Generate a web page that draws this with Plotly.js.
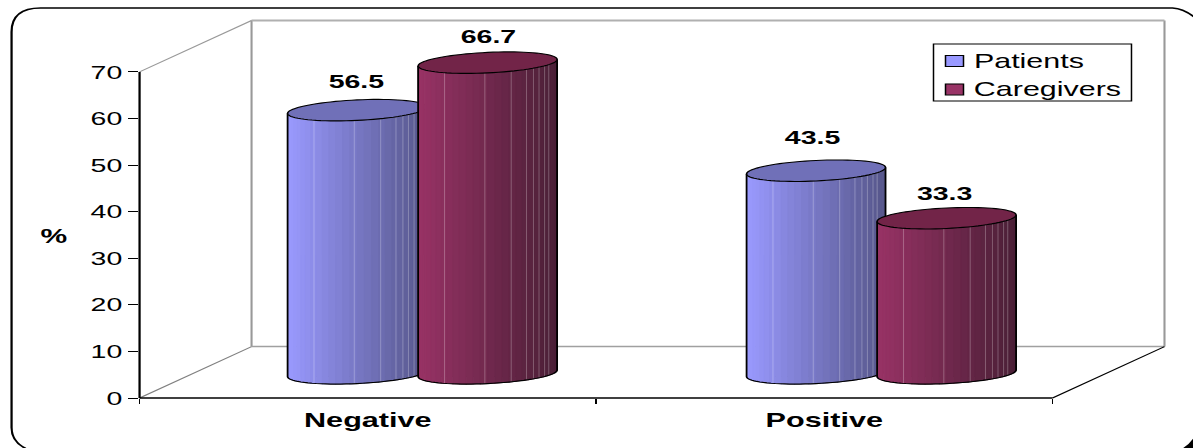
<!DOCTYPE html>
<html>
<head>
<meta charset="utf-8">
<script src="https://cdn.plot.ly/plotly-3.0.1.min.js"></script>
<style>
  html, body { margin: 0; padding: 0; background: #fff; overflow: hidden; width: 1193px; height: 448px; }
  /* The whole slide graphic is drawn wide: glyphs and vertical strokes stretch together. */
  #chart { width: 795px; height: 448px; transform: scaleX(1.50063); transform-origin: 0 0; }
</style>
</head>
<body>
<div id="chart"></div>
<script>
// Survey results, percent of respondents
const categories = ['Negative', 'Positive'];
const patients = [56.5, 43.5];
const caregivers = [66.7, 33.3];
const yTicks = [0, 10, 20, 30, 40, 50, 60, 70];

const stretch = 1193 / 795;
const pxPerUnit = 4.664;        // screen pixels per percentage point
const pxPerCategory = 456.5;    // screen pixels per category on the front plane
const left = 139, right = 1164, top_ = 21, bottom = 398.5;
const xRange = (right - left) / pxPerCategory;
const yRange = (bottom - top_) / pxPerUnit;

// Depth of the pseudo-3D box, in axis units
const depthX = 112 / pxPerCategory;
const depthY = 51.5 / pxPerUnit;

// Cylinder geometry, in axis units
const floorLift = 4.6;          // front-left foot of a cylinder above the zero line
const radiusX = 0.1522;
const radiusY = 2.2;
const tilt = 0.7;               // half the rise of the ellipse from its left to its right end
const facetCount = 30;
const seamFractions = [0.19, 0.48, 0.67, 0.78, 0.83, 0.87, 0.91, 0.94];
const labelNudge = [[0, 6.8], [0.002, 6.4], [-0.007, 7.9], [-0.005, 5.95]];

const seriesStyle = {
  Patients:   { from: [154, 154, 255], to: [86, 86, 138], cap: '#7070b8', swatch: '#9999ff' },
  Caregivers: { from: [153, 51, 102],  to: [74, 31, 54],  cap: '#722448', swatch: '#993366' }
};

const centerOf = (cat, ser) => 0.62 + cat * 1.0055 + (ser === 0 ? -0.1435 : 0.1425);
const mix = (a, b, f) => 'rgb(' + a.map((v, i) => Math.round(v + (b[i] - v) * f)).join(',') + ')';

// One point of the rim: u runs 0..PI from the left end to the right end, side is -1 front, +1 back
function rim(cx, level, u, side) {
  return [cx - radiusX * Math.cos(u), level + tilt * (1 - Math.cos(u)) + side * radiusY * Math.sin(u)];
}
const toPath = (pts, close) => 'M' + pts.map(p => p[0].toFixed(4) + ',' + p[1].toFixed(3)).join('L') + (close ? 'Z' : '');

function cylinderShapes(cx, value, style) {
  const shapes = [];
  const baseLevel = floorLift, topLevel = floorLift + value;
  const body = { type: 'path', xref: 'x', yref: 'y', layer: 'above' };
  // shaded side facets
  for (let i = 0; i < facetCount; i++) {
    const u1 = Math.PI * i / facetCount, u2 = Math.PI * (i + 1) / facetCount;
    const pts = [rim(cx, topLevel, u1, -1), rim(cx, topLevel, u2, -1), rim(cx, baseLevel, u2, -1), rim(cx, baseLevel, u1, -1)];
    const frac = (rim(cx, 0, (u1 + u2) / 2, -1)[0] - (cx - radiusX)) / (2 * radiusX);
    const color = mix(style.from, style.to, frac);
    shapes.push(Object.assign({}, body, { path: toPath(pts, true), fillcolor: color, line: { color: color, width: 0.7 } }));
  }
  // pale seams between some facets
  seamFractions.forEach(f => {
    const u = Math.acos(1 - 2 * f);
    shapes.push(Object.assign({}, body, {
      path: toPath([rim(cx, topLevel, u, -1), rim(cx, baseLevel, u, -1)], false),
      line: { color: 'rgba(255,255,255,0.25)', width: 0.7 }
    }));
  });
  // side and bottom outline
  const outline = [rim(cx, topLevel, 0, -1)];
  for (let i = 0; i <= 40; i++) outline.push(rim(cx, baseLevel, Math.PI * i / 40, -1));
  outline.push(rim(cx, topLevel, Math.PI, -1));
  shapes.push(Object.assign({}, body, { path: toPath(outline, false), line: { color: '#000', width: 1.2 } }));
  // top cap
  const cap = [];
  for (let i = 0; i < 40; i++) cap.push(rim(cx, topLevel, Math.PI * i / 40, -1));
  for (let i = 0; i < 40; i++) cap.push(rim(cx, topLevel, Math.PI - Math.PI * i / 40, 1));
  shapes.push(Object.assign({}, body, { path: toPath(cap, true), fillcolor: style.cap, line: { color: '#000', width: 1.1 } }));
  return shapes;
}

// Box edges: axis units turned into paper fractions, so strokes on the plot border stay whole
const xEnd = categories.length;
const yEnd = yTicks[yTicks.length - 1];
const edge = (x0, y0, x1, y1, color, width, layer) => ({
  type: 'line', xref: 'paper', yref: 'paper', layer: layer || 'below',
  x0: x0 / xRange, y0: y0 / yRange, x1: x1 / xRange, y1: y1 / yRange, line: { color, width }
});
const boxShapes = [
  edge(depthX, depthY, depthX, yEnd + depthY, '#999999', 1.4),
  edge(xEnd + depthX, depthY, xEnd + depthX, yEnd + depthY, '#999999', 1.4),
  edge(depthX, yEnd + depthY, xEnd + depthX, yEnd + depthY, '#b0b0b0', 1.8),
  edge(depthX, depthY, xEnd + depthX, depthY, '#a0a0a0', 1.4),
  edge(0, yEnd, depthX, yEnd + depthY, '#999999', 1),
  edge(0, 0, depthX, depthY, '#808080', 1),
  edge(xEnd, 0, xEnd + depthX, depthY, '#000000', 1),
  edge(0, 0, 0, yEnd, '#000000', 1.5, 'above'),
  edge(0, 0, xEnd, 0, '#000000', 1.4, 'above')
];

// Rounded slide frame, given in screen pixels and converted to paper fractions
const W = 795, H = 448;
const margin = { l: left / stretch, r: (1193 - right) / stretch, t: top_, b: H - bottom };
const paperX = p => ((p / stretch - margin.l) / (W - margin.l - margin.r)).toFixed(5);
const paperY = p => ((H - margin.b - p) / (H - margin.t - margin.b)).toFixed(5);
const pt = (x, y) => paperX(x) + ',' + paperY(y);
const frameShapes = [
  {
    type: 'path', xref: 'paper', yref: 'paper', layer: 'below',
    path: 'M' + pt(25, 449) + 'Q' + pt(11, 442) + ' ' + pt(11, 428) + 'L' + pt(11, 32) +
          'Q' + pt(11, 8) + ' ' + pt(40, 8) + 'L' + pt(1172, 8) + 'Q' + pt(1184, 9) + ' ' + pt(1195, 18),
    line: { color: '#000', width: 1.5 }
  },
  {
    type: 'path', xref: 'paper', yref: 'paper', layer: 'below',
    path: 'M' + pt(1182, 449) + 'Q' + pt(1189, 445) + ' ' + pt(1194, 437) + 'L' + pt(1194, 449) + 'Z',
    fillcolor: '#000', line: { color: '#000', width: 0 }
  }
];

const seriesValues = [patients, caregivers];
const seriesNames = ['Patients', 'Caregivers'];

// Plain bars carry the values; the cylinder faces are laid over them
const traces = seriesNames.map((name, s) => ({
  type: 'bar',
  name: name,
  x: categories.map((_, c) => centerOf(c, s)),
  y: seriesValues[s],
  base: floorLift,
  width: 2 * radiusX * 0.8,
  marker: { color: seriesStyle[name].swatch, line: { color: '#000', width: 1 } },
  hoverinfo: 'name+y'
}));

let cylinders = [];
const annotations = [];
categories.forEach((_, c) => {
  seriesNames.forEach((name, s) => {
    const cx = centerOf(c, s), v = seriesValues[s][c];
    cylinders = cylinders.concat(cylinderShapes(cx, v, seriesStyle[name]));
    const n = labelNudge[c * 2 + s];
    annotations.push({
      x: cx + n[0], y: floorLift + v + n[1], xref: 'x', yref: 'y', showarrow: false,
      text: v.toFixed(1), yanchor: 'middle',
      font: { family: 'Liberation Sans, Arial', size: 19, weight: 700, color: '#000' }
    });
  });
});
annotations.push({
  xref: 'paper', yref: 'y', x: paperX(53), y: (bottom - 236) / pxPerUnit, showarrow: false,
  xanchor: 'center', yanchor: 'middle', text: '%',
  font: { family: 'Liberation Sans, Arial', size: 20, weight: 700, color: '#000' }
});

// Legend panel: a bordered box with one key and one label per series
const legendRows = [{ swatchTop: 55.5, swatchBottom: 66.5, textY: 60.7 }, { swatchTop: 84, swatchBottom: 95, textY: 89 }];
const legendShapes = [{
  type: 'rect', xref: 'paper', yref: 'paper', layer: 'above',
  x0: paperX(933), x1: paperX(1131), y0: paperY(101), y1: paperY(44),
  fillcolor: '#fff', line: { color: '#000', width: 1 }
}];
seriesNames.forEach((name, s) => {
  const row = legendRows[s];
  legendShapes.push({
    type: 'rect', xref: 'paper', yref: 'paper', layer: 'above',
    x0: paperX(945), x1: paperX(963), y0: paperY(row.swatchBottom), y1: paperY(row.swatchTop),
    fillcolor: seriesStyle[name].swatch, line: { color: '#000', width: 1 }
  });
  annotations.push({
    xref: 'paper', yref: 'paper', x: paperX(973), y: paperY(row.textY), showarrow: false,
    xanchor: 'left', yanchor: 'middle', text: name, xshift: -2,
    font: { family: 'Liberation Sans, Arial', size: 20.3, color: '#000' }
  });
});

const layout = {
  width: W, height: H, margin: margin, autosize: false,
  paper_bgcolor: '#fff', plot_bgcolor: '#fff',
  barmode: 'overlay', showlegend: false,
  xaxis: {
    range: [0, xRange], showgrid: false, zeroline: false, showline: false,
    tickmode: 'array', tickvals: [0.5, 1.5], ticktext: categories, ticks: '', ticklen: 0, ticklabelstandoff: 8,
    tickfont: { family: 'Liberation Sans, Arial', size: 20.4, weight: 700, color: '#000' },
    minor: { tickmode: 'array', tickvals: [0, 1, 2], ticks: 'outside', ticklen: 5, tickwidth: 1, tickcolor: '#000', showgrid: false }
  },
  yaxis: {
    range: [0, yRange], showgrid: false, zeroline: false, showline: false,
    tickmode: 'array', tickvals: yTicks, ticks: 'outside', ticklen: 6.7, tickwidth: 1.2, tickcolor: '#000',
    tickfont: { family: 'Liberation Sans, Arial', size: 19, color: '#000' }
  },
  shapes: frameShapes.concat(boxShapes, cylinders, legendShapes),
  annotations: annotations
};

Plotly.newPlot('chart', traces, layout, { displayModeBar: false });
</script>
</body>
</html>
